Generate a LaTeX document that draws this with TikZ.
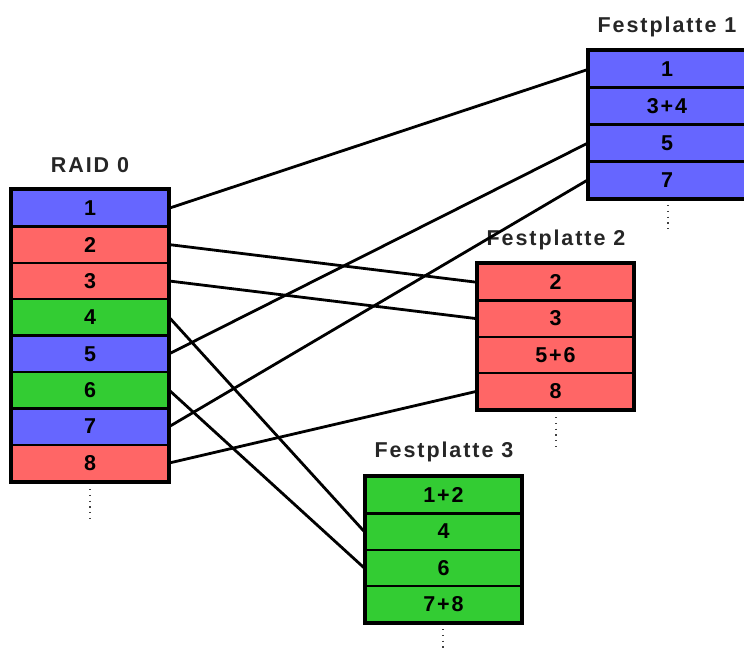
\documentclass[tikz,border=0pt]{standalone}
\usepackage{fontspec}
\newfontfamily\lblfont[LetterSpace=9]{Liberation Sans}
\definecolor{blk}{HTML}{6666FF}
\definecolor{red}{HTML}{FF6666}
\definecolor{grn}{HTML}{33CC33}
\begin{document}
\begin{tikzpicture}[x=1pt,y=-1pt,
  every node/.style={font=\lblfont\bfseries\fontsize{21.5}{25}\selectfont},
  cell/.style={draw=black,line width=2.4pt,minimum width=156pt,minimum height=36.4pt,inner sep=0pt,anchor=center},
  cb/.style={cell,fill=blk},
  cr/.style={cell,fill=red},
  cg/.style={cell,fill=grn},
  frame/.style={draw=black,line width=3.2pt},
  title/.style={anchor=base,inner sep=0pt,text=black!85},
  link/.style={draw=black,line width=2.8pt},
  more/.style={draw=black!75,line width=1.3pt,dash pattern=on 1.2pt off 4.6pt}
]
\useasboundingbox (0,0) rectangle (744,652);

% RAID 0 stripe set
\node[title] (traid) at (90,172.5) {RAID 0};
\node[cb] (r1) at (90,208.2) {1};
\node[cr] (r2) at (90,244.6) {2};
\node[cr] (r3) at (90,281.0) {3};
\node[cg] (r4) at (90,317.4) {4};
\node[cb] (r5) at (90,353.8) {5};
\node[cg] (r6) at (90,390.2) {6};
\node[cb] (r7) at (90,426.6) {7};
\node[cr] (r8) at (90,463.0) {8};
\draw[frame] (r1.north west) rectangle (r8.south east);
\coordinate (rd1) at (90,489);
\coordinate (rd2) at (90,520);
\draw[more] (rd1) -- (rd2);

% Disk 1
\node[title] (tfp1) at (667,33) {Festplatte 1};
\node[cb] (a1) at (667,69.5) {1};
\node[cb] (a2) at (667,106.3) {3+4};
\node[cb] (a3) at (667,143.1) {5};
\node[cb] (a4) at (667,179.9) {7};
\draw[frame] (a1.north west) rectangle (a4.south east);
\coordinate (ad1) at (668,205);
\coordinate (ad2) at (668,233);
\draw[more] (ad1) -- (ad2);

% Disk 2
\node[title] (tfp2) at (556,245.5) {Festplatte 2};
\node[cr] (b1) at (555.5,282.2) {2};
\node[cr] (b2) at (555.5,318.6) {3};
\node[cr] (b3) at (555.5,355.0) {5+6};
\node[cr] (b4) at (555.5,391.4) {8};
\draw[frame] (b1.north west) rectangle (b4.south east);
\coordinate (bd1) at (556,417);
\coordinate (bd2) at (556,447);
\draw[more] (bd1) -- (bd2);

% Disk 3
\node[title] (tfp3) at (444,457.5) {Festplatte 3};
\node[cg] (c1) at (443.5,495.2) {1+2};
\node[cg] (c2) at (443.5,531.6) {4};
\node[cg] (c3) at (443.5,568.0) {6};
\node[cg] (c4) at (443.5,604.4) {7+8};
\draw[frame] (c1.north west) rectangle (c4.south east);
\coordinate (cd1) at (443,629);
\coordinate (cd2) at (443,656);
\draw[more] (cd1) -- (cd2);

% stripe placement
\draw[link] (r1.east) -- (a1.west);
\draw[link] (r2.east) -- (b1.west);
\draw[link] (r3.east) -- (b2.west);
\draw[link] (r4.east) -- (c2.west);
\draw[link] (r5.east) -- (a3.west);
\draw[link] (r6.east) -- (c3.west);
\draw[link] (r7.east) -- (a4.west);
\draw[link] (r8.east) -- (b4.west);
\end{tikzpicture}
\end{document}
